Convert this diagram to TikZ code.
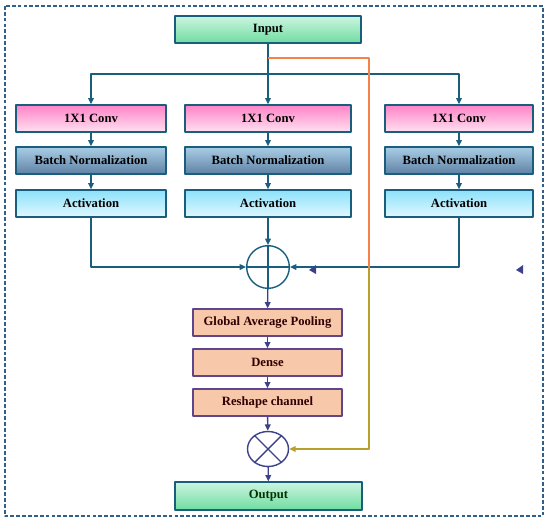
\documentclass[tikz,border=0pt]{standalone}
\usepackage{fontspec}
\setmainfont{Liberation Serif}
\usetikzlibrary{arrows.meta,calc,positioning,shapes.geometric}
\definecolor{blockteal}{RGB}{25,95,125}
\definecolor{blocknavy}{RGB}{60,65,140}
\definecolor{framedash}{RGB}{50,95,135}
\definecolor{skiporange}{RGB}{245,130,75}
\definecolor{skipolive}{RGB}{185,160,45}
\definecolor{inputgreenA}{RGB}{205,245,225}
\definecolor{inputgreenB}{RGB}{110,220,160}
\definecolor{convpinkA}{RGB}{255,130,200}
\definecolor{convpinkB}{RGB}{255,225,240}
\definecolor{normblueA}{RGB}{170,205,230}
\definecolor{normblueB}{RGB}{95,130,165}
\definecolor{actcyanA}{RGB}{140,225,250}
\definecolor{actcyanB}{RGB}{225,248,255}
\definecolor{poolpeach}{RGB}{247,200,170}
\definecolor{poolborder}{RGB}{95,70,140}

\begin{document}
\begin{tikzpicture}[x=0.03cm,y=-0.03cm,line join=round,
 >={Triangle[length=1.9mm,width=1.7mm]},
 box/.style={draw=blockteal,line width=1.1pt,minimum height=.81cm,inner sep=0pt,
  font=\fontsize{10.8}{12}\selectfont\bfseries},
 iobox/.style={box,top color=inputgreenA,bottom color=inputgreenB},
 convbox/.style={box,top color=convpinkA,bottom color=convpinkB},
 normbox/.style={box,top color=normblueA,bottom color=normblueB},
 actbox/.style={box,top color=actcyanA,bottom color=actcyanB},
 poolbox/.style={box,draw=poolborder,fill=poolpeach,minimum width=4.47cm,
  text=black!70!red!60!black},
 link/.style={blockteal,line width=1.2pt},
 linklow/.style={blocknavy,line width=1.2pt},
 opnode/.style={draw=blockteal,line width=1.2pt,inner sep=0pt}]
 \useasboundingbox (0,0) rectangle (550,523);
 \draw[framedash,line width=1pt,dash pattern=on 3.2pt off 1.8pt]
  (5,6) rectangle (543,516);
 % input and the three branches
 \node[iobox,minimum width=5.58cm] (in) at (268,29.5) {Input};
 \node[convbox,minimum width=4.5cm] (conva) at (91,118.5) {1X1 Conv};
 \node[convbox,minimum width=4.98cm] (convb) at (268,118.5) {1X1 Conv};
 \node[convbox,minimum width=4.44cm] (convc) at (459,118.5) {1X1 Conv};
 \node[normbox,minimum width=4.5cm] (norma) at (91,160.5) {Batch Normalization};
 \node[normbox,minimum width=4.98cm] (normb) at (268,160.5) {Batch Normalization};
 \node[normbox,minimum width=4.44cm] (normc) at (459,160.5) {Batch Normalization};
 \node[actbox,minimum width=4.5cm] (acta) at (91,203.5) {Activation};
 \node[actbox,minimum width=4.98cm] (actb) at (268,203.5) {Activation};
 \node[actbox,minimum width=4.44cm] (actc) at (459,203.5) {Activation};
 % sum and the squeeze part
 \node[opnode,circle,minimum size=1.28cm] (sum) at (268,267) {};
 \node[poolbox] (gap) at (267.5,322.5) {Global Average Pooling};
 \node[poolbox] (dense) at (267.5,362.5) {Dense};
 \node[poolbox] (reshape) at (267.5,402.5) {Reshape channel};
 \node[opnode,draw=blocknavy,ellipse,minimum width=1.23cm,minimum height=1.05cm] (mul) at (268,449) {};
 \node[iobox,minimum width=5.61cm,minimum height=.84cm,text=black!80!green] (out) at (268.5,496) {Output};
 \coordinate (split) at (268,74);
 \coordinate (tap) at (268,58);
 \coordinate (skipa) at (369,58);
 \coordinate (skipb) at (369,267);
 % connectors
 \draw[link,->] (in) -- (convb);
 \draw[link,->] (split) -| (conva.north);
 \draw[link,->] (split) -| (convc.north);
 \draw[link,->] (conva) -- (norma);
 \draw[link,->] (convb) -- (normb);
 \draw[link,->] (convc) -- (normc);
 \draw[link,->] (norma) -- (acta);
 \draw[link,->] (normb) -- (actb);
 \draw[link,->] (normc) -- (actc);
 \draw[link,->] (acta.south) |- (sum.west);
 \draw[link,->] (actc.south) |- (sum.east);
 \draw[link,->] (actb) -- (sum.north);
 \draw[link] (sum.north) -- (sum.south) (sum.west) -- (sum.east);
 \draw[linklow,->] (sum) -- (gap);
 \draw[linklow,->] (gap) -- (dense);
 \draw[linklow,->] (dense) -- (reshape);
 \draw[linklow,->] (reshape) -- (mul);
 \draw[linklow] (mul.45) -- (mul.225) (mul.135) -- (mul.315);
 \draw[linklow,->] (mul) -- (out);
 \draw[skiporange,line width=1.2pt] (tap) -- (skipa) -- (skipb);
 \draw[skipolive,line width=1.2pt,->] (skipb) |- (mul.east);
 % two loose arrow heads
 \fill[blocknavy] (309,270) -- (316,265) -- (316,274) -- cycle;
 \fill[blocknavy] (516,270) -- (523,265) -- (523,274) -- cycle;
\end{tikzpicture}
\end{document}
